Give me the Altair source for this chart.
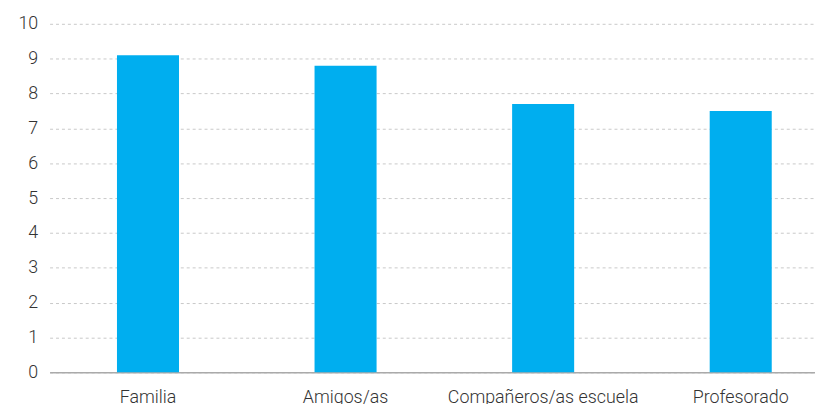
import altair as alt
import pandas as pd

categories = ["Familia", "Amigos/as", "Compañeros/as escuela", "Profesorado"]
values = [9.1, 8.8, 7.7, 7.5]

df = pd.DataFrame({"cat": categories, "val": values})

chart = alt.Chart(df).mark_bar(color="#00AEEF").encode(
    x=alt.X("cat:N", sort=categories, title=None,
            scale=alt.Scale(paddingInner=0.686, paddingOuter=0.28, align=0.609),
            axis=alt.Axis(labelAngle=0, labelFontSize=18, labelColor="#333333",
                          labelFont="Roboto", labelFontWeight=300, labelLimit=0,
                          ticks=False, labelPadding=16, domainColor="#aaaaaa",
                          domainWidth=1.5, grid=False)),
    y=alt.Y("val:Q", title=None,
            scale=alt.Scale(domain=[0, 10], nice=False),
            axis=alt.Axis(values=list(range(0, 11)), labelFontSize=18, labelColor="#333333",
                          labelFont="Roboto", labelFontWeight=300,
                          ticks=False, domain=False, labelPadding=12,
                          gridColor="#c8c8c8", gridDash=[3, 3], gridWidth=1)),
).properties(
    width=773, height=352,
    autosize=alt.AutoSizeParams(type="none"),
    padding={"left": 42, "top": 14, "right": 0, "bottom": 30},
).configure_view(stroke=None)

chart.save("out.html", embed_options={"renderer": "svg", "actions": False})
